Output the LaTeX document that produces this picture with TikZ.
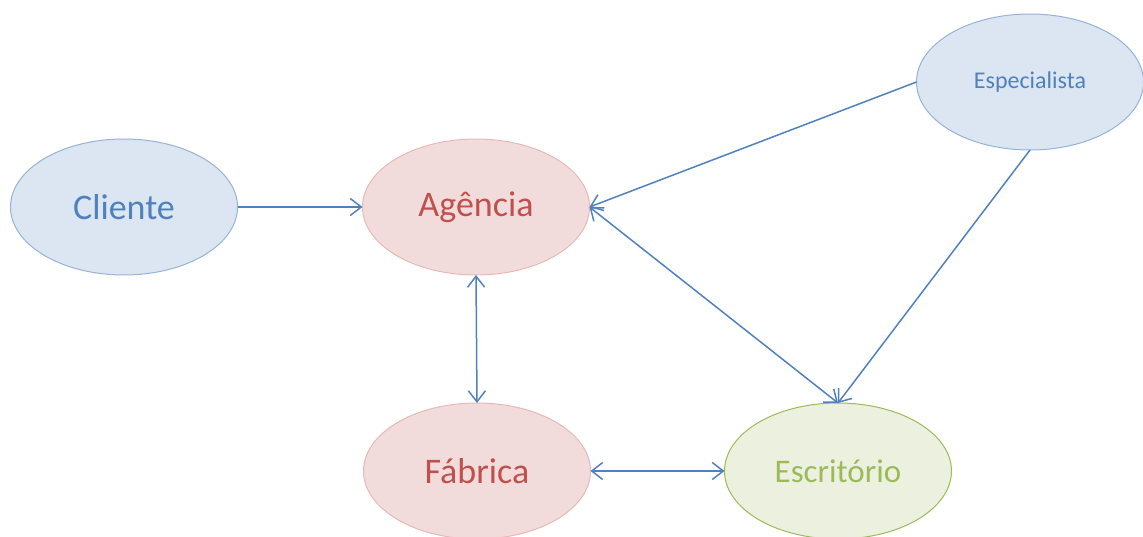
\documentclass[tikz,border=0pt]{standalone}
\usepackage{fontspec}
\setmainfont{Carlito}
\usetikzlibrary{shapes.geometric,arrows.meta}
\definecolor{bluefill}{HTML}{DCE6F2}
\definecolor{blueline}{HTML}{95B3D7}
\definecolor{bluetext}{HTML}{4F81BD}
\definecolor{redfill}{HTML}{F2DCDB}
\definecolor{redline}{HTML}{E6B9B8}
\definecolor{redtext}{HTML}{C0504D}
\definecolor{greenfill}{HTML}{EBF1DE}
\definecolor{greenline}{HTML}{9BBB59}
\definecolor{greentext}{HTML}{9BBB59}
\definecolor{arrowblue}{HTML}{4F81BD}
\tikzset{
  oval/.style={ellipse, minimum width=227pt, minimum height=136pt, inner sep=0pt, outer sep=0pt, line width=1pt, font=\fontsize{36}{40}\selectfont},
  blueoval/.style={oval, fill=bluefill, draw=blueline, text=bluetext},
  redoval/.style={oval, fill=redfill, draw=redline, text=redtext},
  greenoval/.style={oval, fill=greenfill, draw=greenline, text=greentext},
  link/.style={draw=arrowblue, line width=1.5pt, -{Straight Barb[length=11pt,width=17pt,line width=1.5pt]}},
  duallink/.style={link, {Straight Barb[length=11pt,width=17pt,line width=1.5pt]}-{Straight Barb[length=11pt,width=17pt,line width=1.5pt]}}
}
\begin{document}
\begin{tikzpicture}[x=1pt,y=-1pt]
  \useasboundingbox (0,0) rectangle (1143,537);
  \clip (0,0) rectangle (1143,537);
  \node[blueoval] (cliente) at (124,207) {Cliente};
  \node[redoval] (agencia) at (476,207) {Agência};
  \node[blueoval, font=\fontsize{24}{28}\selectfont] (espec) at (1030,82) {Especialista};
  \node[redoval] (fabrica) at (477,471) {Fábrica};
  \node[greenoval, font=\fontsize{33}{38}\selectfont] (escrit) at (838,471) {Escritório};

  \draw[link] (cliente.east) -- (agencia.west);
  \draw[link] (espec.west) -- (agencia.east);
  \draw[link] (espec.south) -- (escrit.north);
  \draw[duallink] (agencia.east) -- (escrit.north);
  \draw[duallink] (agencia.south) -- (fabrica.north);
  \draw[duallink] (fabrica.east) -- (escrit.west);
\end{tikzpicture}
\end{document}
